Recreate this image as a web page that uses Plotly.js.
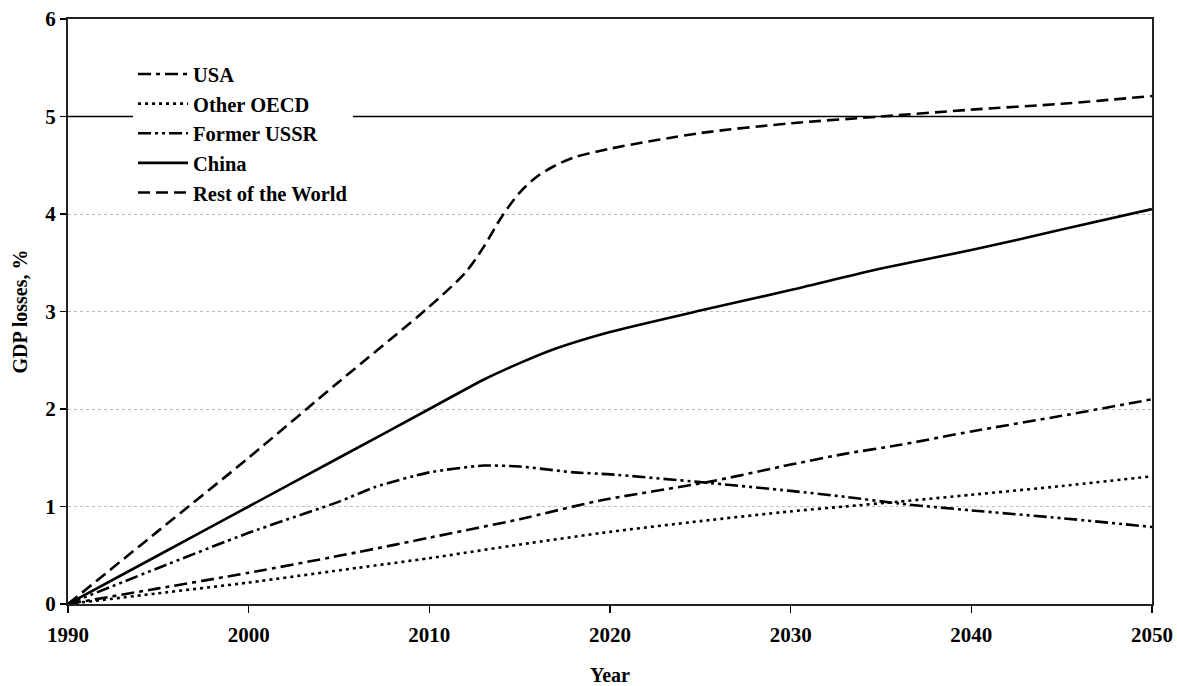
<!DOCTYPE html>
<html>
<head>
<meta charset="utf-8">
<script src="https://cdn.plot.ly/plotly-3.0.1.min.js"></script>
<style>
  html, body { margin: 0; padding: 0; background: #fff; }
  #chart { width: 1177px; height: 686px; }
</style>
</head>
<body>
<div id="chart"></div>
<script>
// GDP losses by region, 1990-2050 (%)
const usaYears = [1990, 1995, 2000, 2006, 2010, 2015, 2019.4, 2025.4, 2030, 2033, 2036, 2040, 2045, 2050];
const usaValues = [0, 0.16, 0.32, 0.53, 0.68, 0.87, 1.06, 1.25, 1.43, 1.54, 1.63, 1.77, 1.93, 2.1];

const oecdYears = [1990, 1995, 2000, 2006, 2010, 2015, 2020, 2025, 2030, 2033, 2036, 2040, 2045, 2050];
const oecdValues = [0, 0.11, 0.22, 0.37, 0.47, 0.61, 0.74, 0.85, 0.95, 1.0, 1.05, 1.12, 1.21, 1.31];

const ussrYears = [1990, 1995, 2000, 2005, 2007, 2010, 2013, 2015, 2018, 2020, 2025, 2030, 2033, 2036, 2040, 2045, 2050];
const ussrValues = [0, 0.37, 0.73, 1.05, 1.2, 1.35, 1.42, 1.41, 1.35, 1.33, 1.25, 1.16, 1.1, 1.03, 0.96, 0.88, 0.79];

const chinaYears = [1990, 1995, 2000, 2005, 2010, 2013, 2015, 2017, 2020, 2025, 2030, 2035, 2040, 2045, 2050];
const chinaValues = [0, 0.5, 1.0, 1.5, 2.0, 2.3, 2.47, 2.62, 2.79, 3.01, 3.22, 3.44, 3.63, 3.84, 4.05];

const rowYears = [1990, 1995, 2000, 2005, 2010, 2012, 2013, 2014, 2015, 2016, 2017, 2018, 2020, 2025, 2030, 2035, 2040, 2045, 2050];
const rowValues = [0, 0.75, 1.5, 2.28, 3.05, 3.4, 3.66, 3.97, 4.22, 4.39, 4.5, 4.58, 4.67, 4.83, 4.93, 5.0, 5.07, 5.13, 5.21];

const seriesNames = ['USA', 'Other OECD', 'Former USSR', 'China', 'Rest of the World'];
const xTicks = [1990, 2000, 2010, 2020, 2030, 2040, 2050];
const yTicks = [0, 1, 2, 3, 4, 5, 6];

const serif = 'Liberation Serif, Times New Roman, serif';
const lw = 2.6;

const traces = [
  { x: usaYears, y: usaValues, name: seriesNames[0],
    line: { color: '#000', width: lw, dash: '13px,5px,4px,5px', shape: 'spline', smoothing: 0.6 } },
  { x: oecdYears, y: oecdValues, name: seriesNames[1],
    line: { color: '#000', width: lw, dash: '3px,4px', shape: 'spline', smoothing: 0.6 } },
  { x: ussrYears, y: ussrValues, name: seriesNames[2],
    line: { color: '#000', width: lw, dash: '13px,4px,3px,4px,3px,4px', shape: 'spline', smoothing: 0.6 } },
  { x: chinaYears, y: chinaValues, name: seriesNames[3],
    line: { color: '#000', width: lw, shape: 'spline', smoothing: 0.6 } },
  { x: rowYears, y: rowValues, name: seriesNames[4],
    line: { color: '#000', width: lw, dash: '12px,6px', shape: 'spline', smoothing: 0.8 } }
].map(t => Object.assign({ type: 'scatter', mode: 'lines', hoverinfo: 'skip' }, t));

const layout = {
  width: 1177,
  height: 686,
  paper_bgcolor: '#fff',
  plot_bgcolor: '#fff',
  margin: { l: 68, r: 25, t: 19, b: 82 },
  showlegend: true,
  font: { family: serif, color: '#000', size: 20, weight: 'bold' },
  legend: {
    x: 0.06, y: 0.94, xanchor: 'left', yanchor: 'top',
    bgcolor: '#fff', borderwidth: 0,
    itemwidth: 50,
    tracegroupgap: 0,
    font: { family: serif, size: 20.5, color: '#000', weight: 'bold' }
  },
  xaxis: {
    range: [1990, 2050],
    tickvals: xTicks,
    ticktext: xTicks.map(String),
    ticks: 'outside', ticklen: 7, tickwidth: 1.5, tickcolor: '#000',
    ticklabelstandoff: 4,
    showline: true, linecolor: '#222', linewidth: 2, mirror: true,
    showgrid: false, zeroline: false,
    tickfont: { family: serif, size: 21, color: '#000', weight: 'bold' },
    title: { text: 'Year', standoff: 24, font: { family: serif, size: 20, color: '#000', weight: 'bold' } }
  },
  yaxis: {
    range: [0, 6],
    tickvals: yTicks,
    ticktext: yTicks.map(String),
    ticks: 'outside', ticklen: 6, tickwidth: 1.5, tickcolor: '#000',
    showline: true, linecolor: '#222', linewidth: 2, mirror: true,
    showgrid: true, gridcolor: '#bbb', gridwidth: 1, griddash: 'dot',
    zeroline: false,
    tickfont: { family: serif, size: 21, color: '#000', weight: 'bold' },
    title: { text: 'GDP losses, %', standoff: 12, font: { family: serif, size: 20, color: '#000', weight: 'bold' } }
  },
  shapes: [
    { type: 'line', xref: 'paper', yref: 'y', x0: 0, x1: 1, y0: 5, y1: 5,
      line: { color: '#000', width: 1.4 }, layer: 'above' }
  ]
};

Plotly.newPlot('chart', traces, layout, { displayModeBar: false, staticPlot: true });
</script>
</body>
</html>
